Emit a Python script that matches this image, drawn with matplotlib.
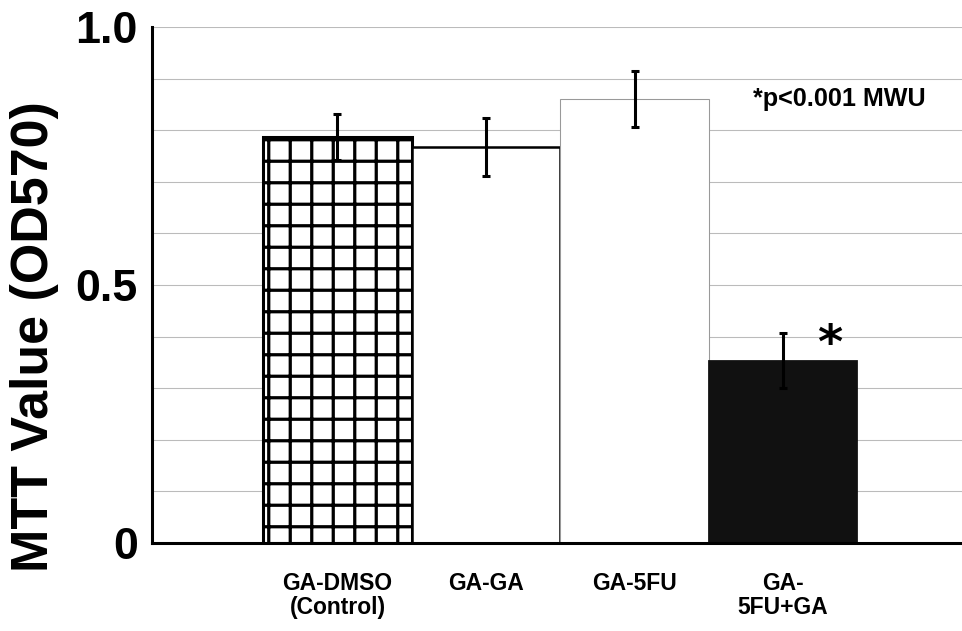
import numpy as np
import matplotlib
matplotlib.use('Agg')
import matplotlib.pyplot as plt
from matplotlib.ticker import MultipleLocator

plt.rcParams['font.family'] = ['Liberation Sans', 'DejaVu Sans']
plt.rcParams['font.weight'] = 'bold'
plt.rcParams['hatch.linewidth'] = 1.8

# Data
groups = ['GA-DMSO\n(Control)', 'GA-GA', 'GA-5FU', 'GA-\n5FU+GA']
means = [0.787, 0.767, 0.860, 0.353]
errors = [0.045, 0.056, 0.054, 0.053]
face_colors = ['white', 'white', 'white', '#111111']
edge_colors = ['black', 'black', '#999999', '#111111']
edge_widths = [1.7, 1.4, 0.6, 1.0]
hatches = ['+', '', '', '']

DPI = 129
fig = plt.figure(figsize=(962 / DPI, 631 / DPI), dpi=DPI)
ax = fig.add_axes([0.158, 0.1395, 0.842, 0.8177])

x = np.arange(len(groups))
for xi, m, fc, ec, lw, h in zip(x, means, face_colors, edge_colors, edge_widths, hatches):
    ax.bar(xi, m, width=1.0, color=fc, edgecolor=ec, linewidth=lw, hatch=h, zorder=2)

ax.errorbar(x, means, yerr=errors, fmt='none', ecolor='black', elinewidth=1.7,
            capsize=2.2, capthick=1.7, zorder=3)

# Axes styling
ax.set_xlim(-1.249, 4.205)
ax.set_ylim(0, 1.0)
ax.yaxis.set_minor_locator(MultipleLocator(0.1))
ax.set_yticks([0, 0.5, 1.0])
ax.set_yticklabels(['0', '0.5', '1.0'])
ax.grid(axis='y', which='both', color='#bbbbbb', linewidth=0.6, zorder=0)
ax.set_axisbelow(True)
ax.tick_params(axis='y', which='both', length=0, pad=8, labelsize=25)
ax.set_xticks(x)
ax.set_xticklabels(groups, fontsize=12.8, linespacing=1.05, multialignment='center')
ax.tick_params(axis='x', length=0, pad=16)

for side in ['top', 'right']:
    ax.spines[side].set_visible(False)
ax.spines['left'].set_linewidth(1.7)
ax.spines['bottom'].set_linewidth(1.7)
ax.spines['bottom'].set_zorder(4)

# Annotations
ax.text(3.38, 0.86, '*p<0.001 MWU', fontsize=14, fontweight='bold', ha='center', va='center')
ax.text(3.315, 0.385, '*', fontsize=27, fontweight='bold', family='DejaVu Sans',
        ha='center', va='center')

fig.text(0.036, 0.466, 'MTT Value (OD570)', rotation=90, fontsize=29, fontweight='bold',
         ha='center', va='center')

fig.savefig('out.png', dpi=DPI)
